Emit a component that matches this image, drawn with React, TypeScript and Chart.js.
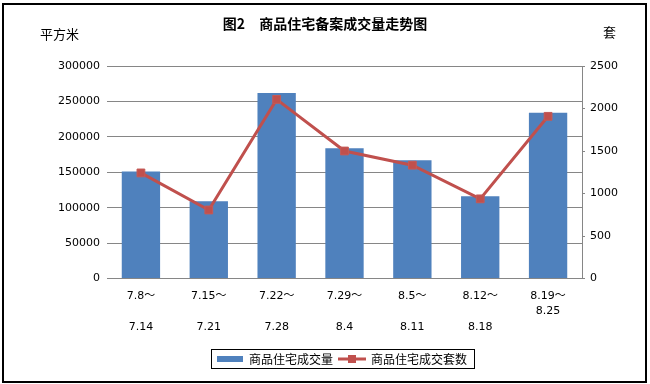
import React, { useEffect, useRef } from "react";
import { Chart, registerables } from "chart.js";

Chart.register(...registerables);

const categories: string[][] = [
  ["7.8～", "", "7.14"],
  ["7.15～", "", "7.21"],
  ["7.22～", "", "7.28"],
  ["7.29～", "", "8.4"],
  ["8.5～", "", "8.11"],
  ["8.12～", "", "8.18"],
  ["8.19～", "8.25"],
];
const areaValues: number[] = [151000, 109000, 262000, 184000, 167000, 116000, 234000];
const unitValues: number[] = [1242, 806, 2107, 1500, 1333, 937, 1908];
const leftTicks = { min: 0, max: 300000, step: 50000 };
const rightTicks = { min: 0, max: 2500, step: 500 };

const titleText = "图2　商品住宅备案成交量走势图";
const leftUnit = "平方米";
const rightUnit = "套";
const seriesNames = ["商品住宅成交量", "商品住宅成交套数"];

const BLUE = "#4F81BD";
const RED = "#C0504D";
const GRID = "#868686";
const CJK = "'Noto Sans CJK SC', sans-serif";
const NUM = "'DejaVu Sans', 'Noto Sans CJK SC', sans-serif";

const PLOT_LEFT = 107;
const PLOT_RIGHT = 582;
const LEGEND_LEFT = 217;

export default function App() {
  const ref = useRef<HTMLCanvasElement | null>(null);

  useEffect(() => {
    if (!ref.current) return;

    const barSwatch = document.createElement("canvas");
    barSwatch.width = 26;
    barSwatch.height = 6;
    const bctx = barSwatch.getContext("2d")!;
    bctx.fillStyle = BLUE;
    bctx.fillRect(0, 0, 26, 6);

    const lineSwatch = document.createElement("canvas");
    lineSwatch.width = 28;
    lineSwatch.height = 8;
    const lctx = lineSwatch.getContext("2d")!;
    lctx.fillStyle = RED;
    lctx.fillRect(0, 2.5, 28, 3);
    lctx.fillRect(10, 0, 8, 8);

    const legendFrame = {
      id: "legendFrame",
      afterUpdate(chart: any) {
        const lg = chart.legend;
        if (!lg || !lg.legendHitBoxes || !lg.legendHitBoxes.length) return;
        const dx = LEGEND_LEFT - lg.legendHitBoxes[0].left;
        lg.left += dx;
        lg.right += dx;
        lg.legendHitBoxes.forEach((h: any) => (h.left += dx));
      },
      afterDraw(chart: any) {
        const lg = chart.legend;
        if (!lg || !lg.legendHitBoxes || !lg.legendHitBoxes.length) return;
        const hb = lg.legendHitBoxes;
        const first = hb[0];
        const last = hb[hb.length - 1];
        const cy = first.top + 6;
        const x0 = Math.round(first.left - 6) + 0.5;
        const x1 = Math.round(last.left + last.width + 7) + 0.5;
        const y0 = Math.round(cy - 10) + 0.5;
        const ctx = chart.ctx;
        ctx.save();
        ctx.strokeStyle = "#000";
        ctx.lineWidth = 1;
        ctx.strokeRect(x0, y0, x1 - x0, 19);
        ctx.restore();
      },
    };

    const plain = (v: any) => String(v);

    const chart = new Chart(ref.current, {
      type: "bar",
      data: {
        labels: categories,
        datasets: [
          {
            type: "bar",
            label: seriesNames[0],
            data: areaValues,
            backgroundColor: BLUE,
            borderWidth: 0,
            barPercentage: 0.565,
            categoryPercentage: 1,
            yAxisID: "y",
            order: 1,
          },
          {
            type: "line",
            label: seriesNames[1],
            data: unitValues,
            borderColor: RED,
            borderWidth: 3,
            tension: 0,
            pointStyle: "rect",
            pointRadius: 5.5,
            pointBackgroundColor: RED,
            pointBorderColor: "#C55A57",
            pointBorderWidth: 1,
            yAxisID: "y1",
            order: 0,
          } as any,
        ],
      },
      options: {
        responsive: false,
        animation: false,
        devicePixelRatio: 1,
        layout: { padding: { left: 0, right: 0, top: 0, bottom: 9 } },
        plugins: {
          tooltip: { enabled: false },
          title: {
            display: true,
            text: titleText,
            color: "#000",
            font: { family: CJK, size: 14, weight: "bold", lineHeight: 1.2 },
            padding: { top: 15.6, bottom: 33.6 },
          },
          legend: {
            display: true,
            position: "bottom",
            labels: {
              color: "#000",
              font: { family: CJK, size: 12 },
              usePointStyle: true,
              pointStyleWidth: 26,
              padding: 6,
              generateLabels: (c: any) =>
                c.data.datasets.map((ds: any, i: number) => ({
                  text: ds.label,
                  pointStyle: i === 0 ? barSwatch : lineSwatch,
                  fillStyle: i === 0 ? BLUE : RED,
                  strokeStyle: i === 0 ? BLUE : RED,
                  lineWidth: 0,
                  hidden: false,
                  datasetIndex: i,
                  fontColor: "#000",
                })),
            },
          },
        },
        scales: {
          x: {
            grid: { display: false, drawTicks: false },
            border: { display: true, color: GRID, width: 1 },
            ticks: {
              color: "#000",
              font: { family: NUM, size: 11, lineHeight: 1.4 },
              padding: 10,
              autoSkip: false,
              maxRotation: 0,
            },
            afterFit: (s: any) => {
              s.height = 68.5;
            },
          },
          y: {
            position: "left",
            min: leftTicks.min,
            max: leftTicks.max,
            ticks: {
              stepSize: leftTicks.step,
              color: "#000",
              font: { family: NUM, size: 11 },
              padding: 7,
              callback: plain,
            },
            grid: { color: GRID, lineWidth: 1, drawTicks: false },
            border: { display: false },
            afterFit: (s: any) => {
              s.width = PLOT_LEFT;
            },
          },
          y1: {
            position: "right",
            min: rightTicks.min,
            max: rightTicks.max,
            ticks: {
              stepSize: rightTicks.step,
              color: "#000",
              font: { family: NUM, size: 11 },
              padding: 5,
              callback: plain,
            },
            grid: { drawOnChartArea: false, color: GRID, tickLength: 3 },
            border: { display: true, color: GRID, width: 1 },
            afterFit: (s: any) => {
              s.width = 650 - PLOT_RIGHT;
            },
          },
        },
      } as any,
      plugins: [legendFrame as any],
    });

    return () => chart.destroy();
  }, []);

  return (
    <div
      style={{
        position: "absolute",
        left: 0,
        top: 0,
        width: 650,
        height: 384,
        background: "#fff",
        overflow: "hidden",
      }}
    >
      <canvas ref={ref} width={650} height={384} style={{ position: "absolute", left: 0, top: 0 }} />
      <div
        style={{
          position: "absolute",
          left: 40,
          top: 26,
          fontFamily: CJK,
          fontSize: 13,
          lineHeight: "16px",
          color: "#000",
        }}
      >
        {leftUnit}
      </div>
      <div
        style={{
          position: "absolute",
          left: 603,
          top: 24,
          fontFamily: CJK,
          fontSize: 13,
          lineHeight: "16px",
          color: "#000",
        }}
      >
        {rightUnit}
      </div>
      <div
        style={{
          position: "absolute",
          left: 2,
          top: 3,
          width: 645,
          height: 380,
          border: "2px solid #000",
          boxSizing: "border-box",
          pointerEvents: "none",
        }}
      />
    </div>
  );
}
